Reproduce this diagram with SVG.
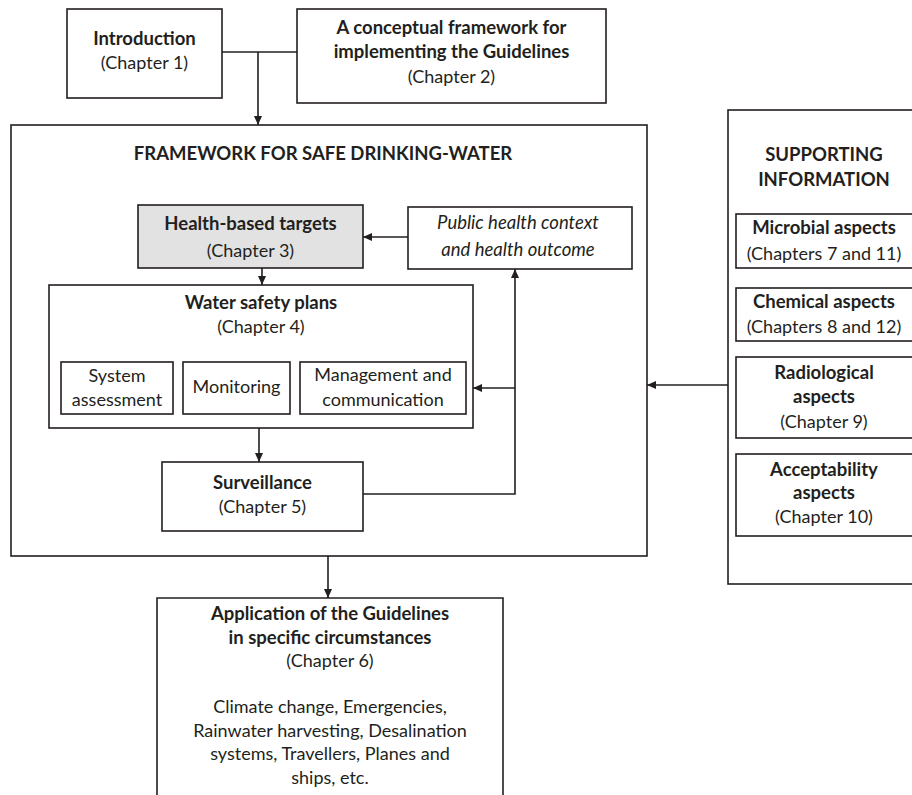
<svg xmlns="http://www.w3.org/2000/svg" width="912" height="795" viewBox="0 0 912 795">
<style>
.box{fill:#fff;stroke:#231f20;stroke-width:1.6}
.gray{fill:#e2e2e2}
.t{font-family:Lato,"Open Sans","Liberation Sans",sans-serif;font-size:18px;fill:#231f20;text-anchor:middle}
.b{font-weight:bold;font-size:18.5px}
.i{font-style:italic;font-size:18.5px}
.conn{stroke:#231f20;stroke-width:1.6;fill:none}
</style>
<defs>
<marker id="arr" markerUnits="userSpaceOnUse" markerWidth="9" markerHeight="8" refX="9" refY="4" orient="auto">
<path d="M0,0 L9,4 L0,8 z" fill="#231f20"/>
</marker>
</defs>
<rect width="912" height="795" fill="#fff"/>
<g id="intro"><rect class="box" x="67" y="9" width="155" height="89"/>
<text class="t b" x="144.5" y="45">Introduction</text><text class="t" x="144.5" y="69">(Chapter 1)</text></g>
<g id="concept"><rect class="box" x="297" y="9" width="309" height="94"/>
<text class="t b" x="451.5" y="34">A conceptual framework for</text><text class="t b" x="451.5" y="58">implementing the Guidelines</text><text class="t" x="451.5" y="83">(Chapter 2)</text></g>
<g id="framework"><rect class="box" x="11" y="125" width="636" height="431"/>
<text class="t b" x="323" y="160">FRAMEWORK FOR SAFE DRINKING-WATER</text></g>
<g id="health"><rect class="box gray" x="138" y="205" width="225" height="63"/>
<text class="t b" x="250.5" y="230">Health-based targets</text><text class="t" x="250.5" y="257">(Chapter 3)</text></g>
<g id="public"><rect class="box" x="408" y="207" width="224" height="62"/>
<text class="t i" x="518" y="229">Public health context</text><text class="t i" x="518" y="256">and health outcome</text></g>
<g id="wsp"><rect class="box" x="49" y="285" width="424" height="143"/>
<text class="t b" x="261" y="309">Water safety plans</text><text class="t" x="261" y="333">(Chapter 4)</text></g>
<g id="sys"><rect class="box" x="61" y="362" width="112" height="52"/>
<text class="t" x="117" y="382">System</text><text class="t" x="117" y="406">assessment</text></g>
<g id="mon"><rect class="box" x="183" y="362" width="107" height="52"/>
<text class="t" x="236.5" y="393">Monitoring</text></g>
<g id="mgmt"><rect class="box" x="300" y="362" width="166" height="52"/>
<text class="t" x="383" y="381">Management and</text><text class="t" x="383" y="406">communication</text></g>
<g id="surv"><rect class="box" x="162" y="462" width="201" height="69"/>
<text class="t b" x="262.5" y="489">Surveillance</text><text class="t" x="262.5" y="513">(Chapter 5)</text></g>
<g id="app"><path class="box" d="M157,800 V598 H503 V800"/>
<text class="t b" x="330" y="620">Application of the Guidelines</text>
<text class="t b" x="330" y="644">in specific circumstances</text>
<text class="t" x="330" y="667">(Chapter 6)</text>
<text class="t" x="330" y="713">Climate change, Emergencies,</text>
<text class="t" x="330" y="737">Rainwater harvesting, Desalination</text>
<text class="t" x="330" y="760">systems, Travellers, Planes and</text>
<text class="t" x="330" y="784">ships, etc.</text></g>
<g id="support"><rect class="box" x="728" y="110" width="200" height="474"/>
<text class="t b" x="824" y="161">SUPPORTING</text><text class="t b" x="824" y="186">INFORMATION</text></g>
<g id="micro"><rect class="box" x="736" y="214" width="190" height="54"/>
<text class="t b" x="824" y="234">Microbial aspects</text><text class="t" x="824" y="260">(Chapters 7 and 11)</text></g>
<g id="chem"><rect class="box" x="736" y="288" width="190" height="53"/>
<text class="t b" x="824" y="308">Chemical aspects</text><text class="t" x="824" y="333">(Chapters 8 and 12)</text></g>
<g id="radio"><rect class="box" x="736" y="357" width="190" height="81"/>
<text class="t b" x="824" y="379">Radiological</text><text class="t b" x="824" y="403">aspects</text><text class="t" x="824" y="428">(Chapter 9)</text></g>
<g id="accept"><rect class="box" x="736" y="454" width="190" height="82"/>
<text class="t b" x="824" y="476">Acceptability</text><text class="t b" x="824" y="499">aspects</text><text class="t" x="824" y="523">(Chapter 10)</text></g>
<g id="connectors">
<path class="conn" d="M222,52 H297"/>
<path class="conn" d="M258,52 V125" marker-end="url(#arr)"/>
<path class="conn" d="M408,237 H363" marker-end="url(#arr)"/>
<path class="conn" d="M262,268 V285" marker-end="url(#arr)"/>
<path class="conn" d="M259,428 V462" marker-end="url(#arr)"/>
<path class="conn" d="M363,494 H515 V269" marker-end="url(#arr)"/>
<path class="conn" d="M515,388 H473" marker-end="url(#arr)"/>
<path class="conn" d="M328,556 V598" marker-end="url(#arr)"/>
<path class="conn" d="M728,385 H647" marker-end="url(#arr)"/>
</g>
</svg>
